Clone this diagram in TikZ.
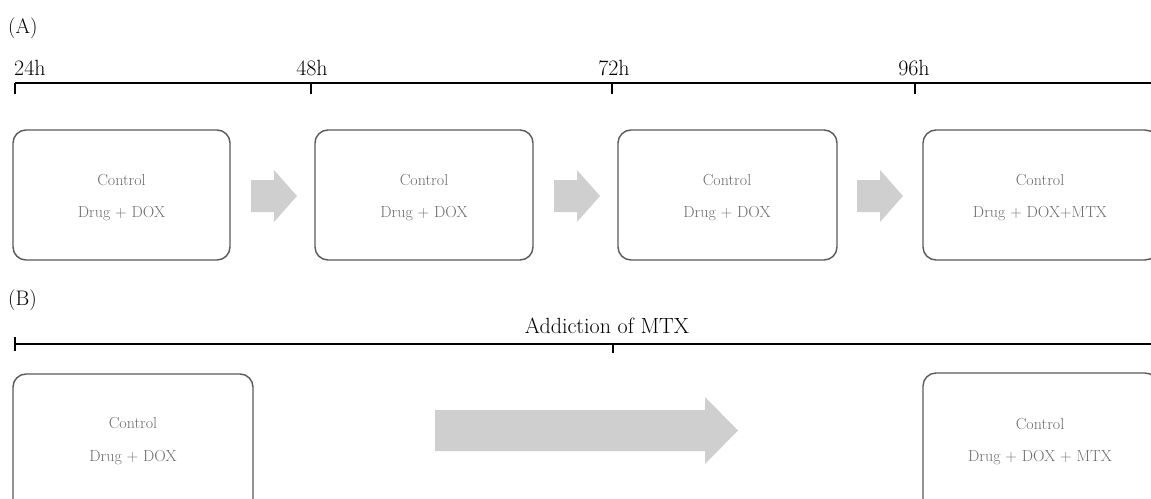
\documentclass[tikz,border=0pt]{standalone}
\usepackage{fontspec}
\begin{document}
\begin{tikzpicture}[x=1pt,y=-1pt,
  tline/.style={line width=2pt,black},
  phase/.style={draw=black!65,line width=1.4pt,rounded corners=13pt},
  btext/.style={text=black!58,font=\fontsize{16}{18}\selectfont,anchor=base,inner sep=0pt},
  tlabel/.style={font=\fontsize{22}{24}\selectfont,anchor=base,inner sep=0pt},
  plabel/.style={font=\fontsize{21}{23}\selectfont,anchor=west,inner sep=0pt},
  blk/.style={fill=black!19,draw=none}]
\useasboundingbox (0,0) rectangle (1151,498);
\clip (0,0) rectangle (1151,498);
% Panel A
\node[plabel] (pA) at (8,28) {(A)};
\coordinate (ta0) at (15,83);
\coordinate (ta1) at (311,83);
\coordinate (ta2) at (612,83);
\coordinate (ta3) at (915,83);
\coordinate (taE) at (1160,83);
\draw[tline] (ta0) -- (taE);
\foreach \t in {ta0,ta1,ta2,ta3}{\draw[tline] (\t) -- ++(0,11);}
\node[tlabel,anchor=base west] (l24) at (14,75) {24h};
\node[tlabel] (l48) at (312,75) {48h};
\node[tlabel] (l72) at (614,75) {72h};
\node[tlabel] (l96) at (914,75) {96h};
\draw[phase] (13,130) rectangle (230,260);
\draw[phase] (315,130) rectangle (533,260);
\draw[phase] (618,130) rectangle (837,260);
\draw[phase] (923,130) rectangle (1158,260);
\node[btext] (a1c) at (121.5,185) {Control};
\node[btext] (a1d) at (121.5,217) {Drug + DOX};
\node[btext] (a2c) at (424,185) {Control};
\node[btext] (a2d) at (424,217) {Drug + DOX};
\node[btext] (a3c) at (727,185) {Control};
\node[btext] (a3d) at (727,217) {Drug + DOX};
\node[btext] (a4c) at (1040,185) {Control};
\node[btext] (a4d) at (1040,217) {Drug + DOX+MTX};
\foreach \s in {251,554,857}{
  \fill[blk] (\s,180) -- (\s+23,180) -- (\s+23,170) -- (\s+46,196) -- (\s+23,222) -- (\s+23,212) -- (\s,212) -- cycle;}
% Panel B
\node[plabel] (pB) at (8,300) {(B)};
\coordinate (tb0) at (15,344);
\coordinate (tb1) at (613,344);
\coordinate (tbE) at (1160,344);
\draw[tline] (tb0) -- (tbE);
\draw[tline] (15,337) -- (15,351);
\draw[tline] (tb1) -- ++(0,9);
\node[tlabel] (lmtx) at (607,333) {Addiction of MTX};
\draw[phase] (13,374) rectangle (253,530);
\draw[phase] (923,373) rectangle (1158,530);
\node[btext] (b1c) at (133,428) {Control};
\node[btext] (b1d) at (133,461) {Drug + DOX};
\node[btext] (b2c) at (1040,429) {Control};
\node[btext] (b2d) at (1040,461) {Drug + DOX + MTX};
\fill[blk] (435,410) -- (705,410) -- (705,397) -- (738,430.5) -- (705,464) -- (705,451) -- (435,451) -- cycle;
\end{tikzpicture}
\end{document}
